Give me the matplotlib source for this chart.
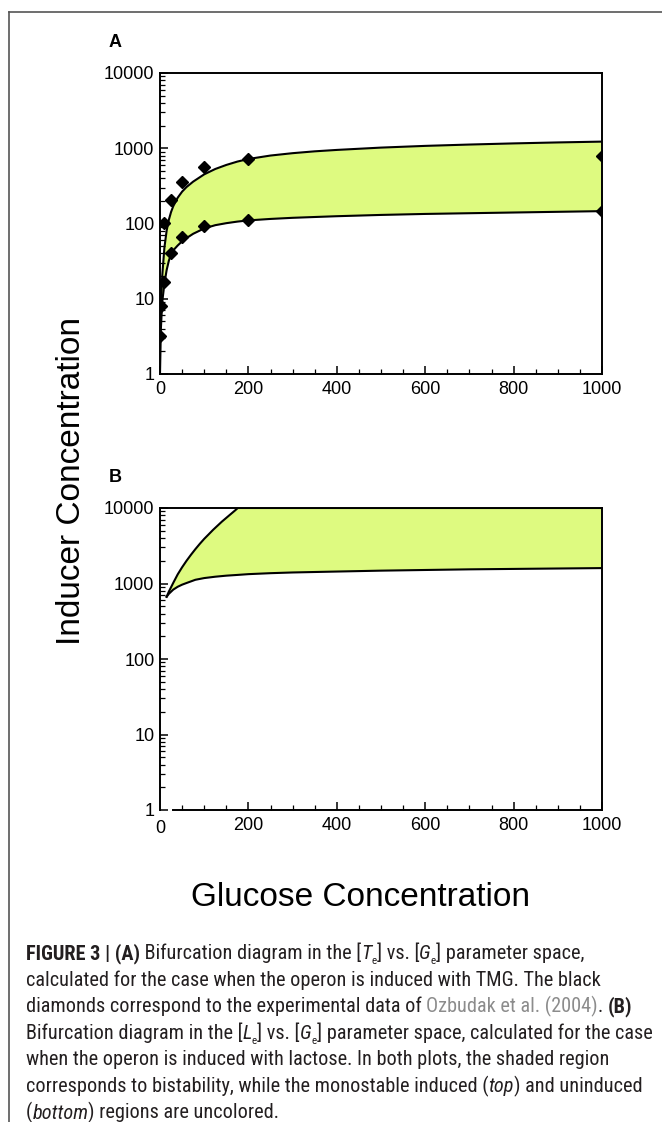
import matplotlib
matplotlib.use("Agg")
import matplotlib.pyplot as plt
import numpy as np
from matplotlib import font_manager as fm
from matplotlib.lines import Line2D
from matplotlib.ticker import LogLocator, MultipleLocator, NullFormatter, FixedLocator

# ---------------- data ----------------
# Panel A: TMG-induced bifurcation boundaries
xA = [0, 2, 5, 10, 15, 20, 25, 30, 40, 50, 60, 75, 100, 125, 150, 175, 200,
      250, 300, 350, 400, 500, 600, 700, 800, 900, 1000]
upperA = [4.8, 8, 20, 48, 80, 112, 142, 170, 220, 265, 305, 360, 450, 530, 600, 665, 720,
          800, 860, 910, 950, 1020, 1075, 1120, 1160, 1195, 1225]
lowerA = [1.0, 4, 9, 16, 24, 32, 39, 44, 51, 58, 64, 73, 86, 95, 101, 106, 110,
          115, 119, 122, 125, 130, 134, 137, 140, 143, 146]
# experimental data (diamonds)
diamond_x = [0, 2, 10, 10, 25, 25, 50, 50, 100, 100, 200, 200, 1000, 1000]
diamond_y = [3.2, 8, 102, 16.5, 205, 41, 360, 66, 565, 94, 715, 111, 790, 145]

# Panel B: lactose-induced bifurcation boundaries
xB_upper = [15, 20, 30, 40, 50, 60, 70, 80, 90, 100, 110, 120, 130, 140, 150, 160, 170, 176, 1000]
upperB = [667, 780, 1020, 1320, 1640, 2000, 2400, 2850, 3350, 3900, 4470, 5130, 5820, 6600,
          7400, 8300, 9300, 10000, 10000]
xB_lower = [15, 20, 30, 40, 50, 60, 80, 100, 125, 150, 176, 200, 250, 300, 400, 500, 600,
            700, 800, 900, 1000]
lowerB = [667, 730, 830, 905, 965, 1015, 1120, 1180, 1230, 1270, 1300, 1330, 1370, 1400,
          1440, 1480, 1510, 1540, 1560, 1580, 1600]

xticks = [0, 200, 400, 600, 800, 1000]
yticks = [1, 10, 100, 1000, 10000]
ytick_labels = ["1", "10", "100", "1000", "10000"]

FILL = "#DEFA80"
W, H = 662, 1122

names = {f.name for f in fm.fontManager.ttflist}
MAIN_FONT = "Liberation Sans" if "Liberation Sans" in names else "DejaVu Sans"
plt.rcParams["font.family"] = [MAIN_FONT, "DejaVu Sans"]


def stretch_value(st):
    if isinstance(st, (int, float)):
        return int(st)
    return fm.stretch_dict.get(st, 500)


# find a condensed sans font for the caption, if one is installed
cond = {}
for f in fm.fontManager.ttflist:
    sv = stretch_value(f.stretch)
    if sv < 500 or "Narrow" in f.name or "Condensed" in f.name:
        cond.setdefault(f.name, sv)
CAP_FAMILY, CAP_STRETCH = MAIN_FONT, "normal"
for pref in ["Liberation Sans Narrow", "Roboto Condensed", "Noto Sans", "Open Sans",
             "Open Sans Condensed", "Noto Sans Condensed", "DejaVu Sans", "Roboto",
             "Lato", "Inter", "DejaVu Sans Condensed"]:
    if pref in cond:
        CAP_FAMILY, CAP_STRETCH = pref, cond[pref]
        break
else:
    for nm, sv in cond.items():
        if "Mono" not in nm and "Serif" not in nm and "CJK" not in nm:
            CAP_FAMILY, CAP_STRETCH = nm, sv
            break

fig = plt.figure(figsize=(W / 100, H / 100), dpi=100)


def px_rect(left, top, right, bottom):
    return [left / W, 1 - bottom / H, (right - left) / W, (bottom - top) / H]


def style_axes(ax):
    ax.set_yscale("log")
    ax.set_xlim(0, 1000)
    ax.set_ylim(1, 10000)
    for s in ax.spines.values():
        s.set_linewidth(1.4)
    ax.set_xticks(xticks)
    ax.set_xticklabels([str(v) for v in xticks])
    ax.xaxis.set_minor_locator(MultipleLocator(50))
    ax.set_yticks(yticks)
    ax.set_yticklabels(ytick_labels)
    ax.yaxis.set_minor_locator(LogLocator(base=10, subs=np.arange(2, 10), numticks=20))
    ax.yaxis.set_minor_formatter(NullFormatter())
    ax.tick_params(axis="both", which="major", direction="in", length=6, width=1.1,
                   labelsize=13, pad=4, top=False, right=False)
    ax.tick_params(axis="both", which="minor", direction="in", length=3.5, width=0.9,
                   top=False, right=False)
    ax.tick_params(axis="x", which="major", pad=5)


# Panel A
axA = fig.add_axes(px_rect(160, 73, 602, 374))
style_axes(axA)
axA.fill_between(xA, lowerA, upperA, color=FILL, linewidth=0)
axA.plot(xA, upperA, color="black", lw=1.5, solid_joinstyle="round")
axA.plot(xA, lowerA, color="black", lw=1.5, solid_joinstyle="round")
axA.plot(diamond_x, diamond_y, linestyle="none", marker="D", markersize=6.3,
         color="black", clip_on=True)

# Panel B
axB = fig.add_axes(px_rect(160, 508, 602, 810))
style_axes(axB)
poly_x = list(xB_lower) + list(xB_upper[::-1])
poly_y = list(lowerB) + list(upperB[::-1])
axB.fill(poly_x, poly_y, color=FILL, linewidth=0)
axB.plot(xB_upper, upperB, color="black", lw=1.5, solid_joinstyle="round")
axB.plot(xB_lower, lowerB, color="black", lw=1.5, solid_joinstyle="round")
axB.spines["bottom"].set_bounds(30, 1000)
axB.xaxis.set_minor_locator(FixedLocator([50, 100, 150, 250, 300, 350, 450, 500, 550,
                                          650, 700, 750, 850, 900, 950]))
axB.set_xticks([200, 400, 600, 800, 1000], minor=False)
axB.set_xticklabels(["200", "400", "600", "800", "1000"])
fig.text(160 / W, 1 - 833 / H, "0", ha="center", va="baseline", fontsize=13)

# panel letters
fig.text(115 / W, 1 - 47 / H, "A", fontsize=13, fontweight="bold", ha="center", va="baseline")
fig.text(115 / W, 1 - 482 / H, "B", fontsize=13, fontweight="bold", ha="center", va="baseline")

# axis labels
fig.text(361 / W, 1 - 906 / H, "Glucose Concentration", fontsize=24, ha="center", va="baseline")
fig.text(80 / W, 1 - 481 / H, "Inducer Concentration", fontsize=24, rotation=90,
         ha="center", va="baseline", rotation_mode="anchor")

# frame lines
fig.add_artist(Line2D([9 / W, 9 / W], [0, 1 - 12 / H], transform=fig.transFigure,
                      color="#555555", lw=1.2))
fig.add_artist(Line2D([9 / W, 1], [1 - 12 / H, 1 - 12 / H], transform=fig.transFigure,
                      color="#555555", lw=1.2))

# caption
caption_lines = [
    [("FIGURE 3 | (A)", "b"), (" Bifurcation diagram in the [", "n"), ("T", "i"), ("e", "s"),
     ("] vs. [", "n"), ("G", "i"), ("e", "s"), ("] parameter space,", "n")],
    [("calculated for the case when the operon is induced with TMG. The black", "n")],
    [("diamonds correspond to the experimental data of ", "n"), ("Ozbudak et al. (2004)", "g"),
     (". ", "n"), ("(B)", "b")],
    [("Bifurcation diagram in the [", "n"), ("L", "i"), ("e", "s"), ("] vs. [", "n"), ("G", "i"),
     ("e", "s"), ("] parameter space, calculated for the case", "n")],
    [("when the operon is induced with lactose. In both plots, the shaded region", "n")],
    [("corresponds to bistability, while the monostable induced (", "n"), ("top", "i"),
     (") and uninduced", "n")],
    [("(", "n"), ("bottom", "i"), (") regions are uncolored.", "n")],
]

renderer = fig.canvas.get_renderer()


def run_kwargs(style, size):
    kw = dict(fontsize=size, family=[CAP_FAMILY, "DejaVu Sans"], fontstretch=CAP_STRETCH,
              color="#231f20")
    if style == "b":
        kw["fontweight"] = "bold"
    elif style == "i":
        kw["fontstyle"] = "italic"
    elif style == "s":
        kw["fontsize"] = size * 0.55
    elif style == "g":
        kw["color"] = "#8c8c8c"
    return kw


def run_width(text, style, size):
    kw = run_kwargs(style, size)
    t1 = fig.text(0, 0, "|" + text + "|", **kw)
    t2 = fig.text(0, 0, "||", **kw)
    w = t1.get_window_extent(renderer).width - t2.get_window_extent(renderer).width
    t1.remove()
    t2.remove()
    return w


def line_width(runs, size):
    return sum(run_width(t, s, size) for t, s in runs)


target = 650 - 26
trial = 12.0
size = trial * target / line_width(caption_lines[3], trial)
size = min(size, 15.5)

x0 = 26
base0 = 959
spacing = 26.6
for i, runs in enumerate(caption_lines):
    x = x0
    base = base0 + spacing * i
    for text, style in runs:
        kw = run_kwargs(style, size)
        dy = size * 0.35 if style == "s" else 0
        fig.text(x / W, 1 - (base + dy) / H, text, ha="left", va="baseline", **kw)
        x += run_width(text, style, size)

fig.savefig("out.png", dpi=100)
